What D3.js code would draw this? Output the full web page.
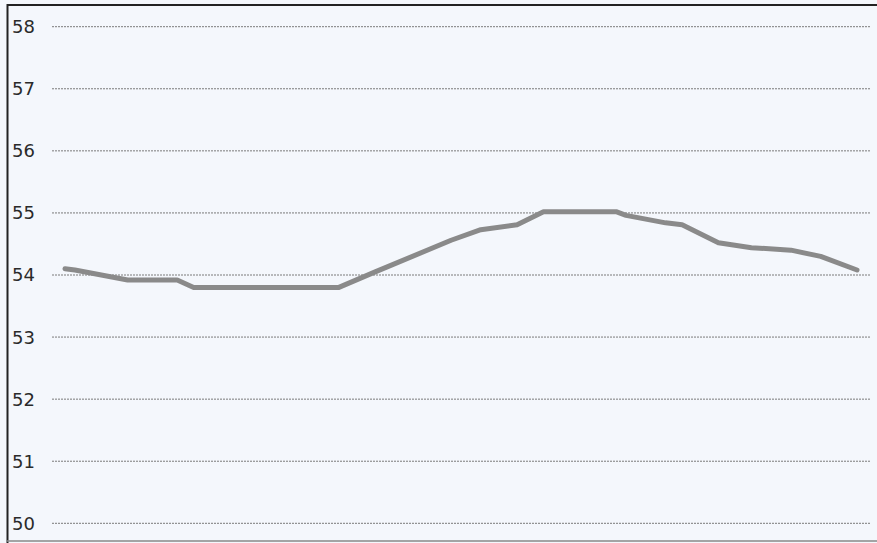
<!DOCTYPE html>
<html>
<head>
<meta charset="utf-8">
<script src="https://cdn.jsdelivr.net/npm/d3@7/dist/d3.min.js"></script>
<style>
  html, body { margin: 0; padding: 0; background: #f4f7fc; }
  svg { display: block; }
</style>
</head>
<body>
<svg id="chart" width="877" height="543"></svg>
<script>
// Data (x = position along the period, arbitrary units)
const xPos   = [0, 3, 19, 34, 39, 83, 94, 117, 126, 137, 145, 167, 170, 182, 187, 198, 208, 220, 229, 240];
const values = [54.10, 54.08, 53.92, 53.92, 53.80, 53.80, 54.05, 54.56, 54.73, 54.81, 55.02, 55.02, 54.96, 54.84, 54.81, 54.52, 54.44, 54.40, 54.30, 54.08];
const yTicks = [50, 51, 52, 53, 54, 55, 56, 57, 58];

const svg = d3.select("#chart");
const W = 877, H = 543;

const x = d3.scaleLinear().domain([0, 240]).range([65, 857]);
const y = d3.scaleLinear().domain([50, 58]).range([523.3, 26.7]);

// background
svg.append("rect").attr("x", 0).attr("y", 0).attr("width", W).attr("height", H).attr("fill", "#f4f7fc");

// gridlines
svg.append("g").selectAll("line").data(yTicks).join("line")
  .attr("x1", 52).attr("x2", 870)
  .attr("y1", d => y(d)).attr("y2", d => y(d))
  .attr("stroke", "#7a7a7a").attr("stroke-width", 1)
  .attr("stroke-dasharray", "2,1");

// tick labels
svg.append("g").selectAll("text").data(yTicks).join("text")
  .attr("x", 12).attr("y", d => y(d))
  .attr("dy", "0.36em")
  .attr("font-family", "DejaVu Sans, sans-serif")
  .attr("font-size", 18)
  .attr("fill", "#2a2a2a")
  .text(d => d);

// border (top, left, bottom)
svg.append("line").attr("x1", 7).attr("x2", 877).attr("y1", 5).attr("y2", 5)
  .attr("stroke", "#222").attr("stroke-width", 2);
svg.append("line").attr("x1", 7.5).attr("x2", 7.5).attr("y1", 4).attr("y2", 543)
  .attr("stroke", "#222").attr("stroke-width", 2);
svg.append("line").attr("x1", 7).attr("x2", 877).attr("y1", 541).attr("y2", 541)
  .attr("stroke", "#888").attr("stroke-width", 1.5);

// data line
const pts = xPos.map((d, i) => [d, values[i]]);
const line = d3.line().x(d => x(d[0])).y(d => y(d[1]));
svg.append("path").datum(pts)
  .attr("d", line)
  .attr("fill", "none")
  .attr("stroke", "#8a8a8a")
  .attr("stroke-width", 5)
  .attr("stroke-linejoin", "round")
  .attr("stroke-linecap", "round");
</script>
</body>
</html>
